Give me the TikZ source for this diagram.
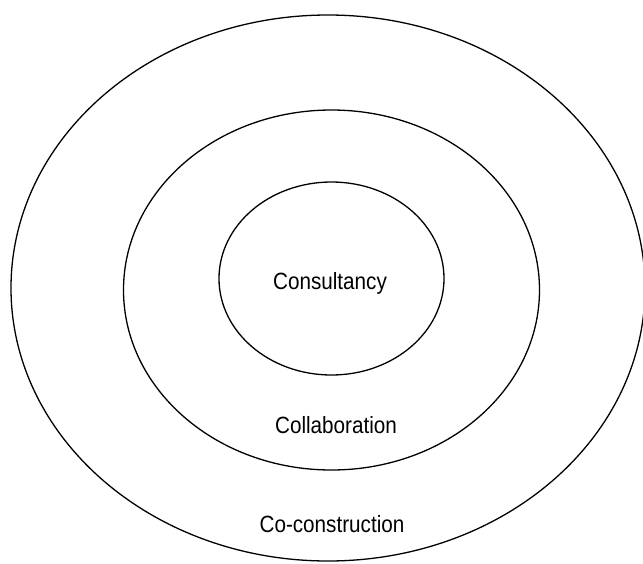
\documentclass[tikz,border=0pt]{standalone}
\usepackage{fontspec}
\setmainfont{Liberation Sans}[FakeStretch=0.88]
\usetikzlibrary{shapes.geometric}
\begin{document}
\begin{tikzpicture}[x=1pt,y=-1pt,
  ring/.style={draw=black,line width=1.3pt,ellipse,inner sep=0pt},
  label/.style={font=\fontsize{23.5}{28}\selectfont,anchor=base,inner sep=0pt}]
\useasboundingbox (0,0) rectangle (643,563);
% three nested rings
\node[ring,minimum width=634,minimum height=546] (outer) at (328,288) {};
\node[ring,minimum width=416,minimum height=360] (middle) at (331.5,290) {};
\node[ring,minimum width=225,minimum height=193] (inner) at (331.5,278.5) {};
% ring names
\node[label] (consult) at (330,289) {Consultancy};
\node[label] (collab) at (336,433) {Collaboration};
\node[label] (cocon) at (332,532) {Co-construction};
\end{tikzpicture}
\end{document}
